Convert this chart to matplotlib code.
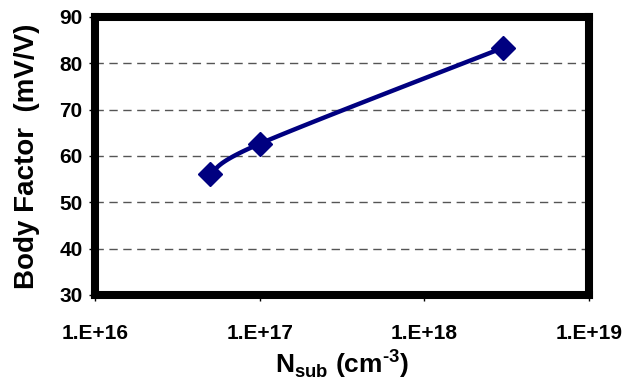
import numpy as np
import matplotlib
matplotlib.use("Agg")
import matplotlib.pyplot as plt

n_sub = [5e16, 1e17, 3e18]
body_factor = [56.0, 62.6, 83.3]
y_ticks = [30, 40, 50, 60, 70, 80, 90]
x_ticks = [1e16, 1e17, 1e18, 1e19]
x_labels = ["1.E+16", "1.E+17", "1.E+18", "1.E+19"]

plt.rcParams['font.family'] = ['Liberation Sans', 'DejaVu Sans']
plt.rcParams['font.weight'] = 'bold'
plt.rcParams['mathtext.fontset'] = 'custom'
plt.rcParams['mathtext.bf'] = 'Liberation Sans:bold'
plt.rcParams['mathtext.rm'] = 'Liberation Sans:bold'

fig = plt.figure(figsize=(6.29, 3.83), dpi=100)
ax = fig.add_axes([0.151, 0.230, 0.785, 0.726])
ax.set_xscale('log')
ax.set_xlim(1e16, 1e19)
ax.set_ylim(30, 90)

# excel-like smoothed line (bezier through points, done in axis-fraction space)
aspect = (0.726 * 3.83) / (0.785 * 6.29)
u = (np.log10(n_sub) - 16) / 3.0
v = (np.array(body_factor) - 30) / 60.0 * aspect
pts = np.column_stack([u, v])
curve = []
for i in range(len(pts) - 1):
    p0 = pts[i - 1] if i > 0 else pts[i]
    p1 = pts[i]
    p2 = pts[i + 1]
    p3 = pts[i + 2] if i + 2 < len(pts) else pts[i + 1]
    c1 = p1 + (p2 - p0) / 6.0
    c2 = p2 - (p3 - p1) / 6.0
    t = np.linspace(0, 1, 40)[:, None]
    seg = (1 - t) ** 3 * p1 + 3 * (1 - t) ** 2 * t * c1 + 3 * (1 - t) * t ** 2 * c2 + t ** 3 * p2
    curve.append(seg)
curve = np.vstack(curve)
cx = 10 ** (curve[:, 0] * 3 + 16)
cy = curve[:, 1] / aspect * 60 + 30

ax.plot(cx, cy, color='#000080', lw=3.2, zorder=3)
ax.plot(n_sub, body_factor, linestyle='none', marker='D', markersize=12,
        color='#000080', zorder=4)

for g in [40, 50, 60, 70, 80]:
    ax.axhline(g, color='#555555', lw=1, dashes=(6, 4), zorder=1)

for s in ax.spines.values():
    s.set_linewidth(5.8)
    s.set_color('black')

ax.set_yticks(y_ticks)
ax.set_xticks(x_ticks)
ax.set_xticklabels(x_labels)
ax.minorticks_off()
ax.tick_params(axis='both', labelsize=15, length=4, width=1, direction='out')
ax.tick_params(axis='x', pad=17)
ax.tick_params(axis='y', pad=5)

ax.set_ylabel('Body Factor  (mV/V)', fontsize=20, fontweight='bold', labelpad=14)
ax.set_xlabel('N$_{\\mathbf{sub}}$ (cm$^{\\mathbf{\u20103}}$)', fontsize=19, fontweight='bold', labelpad=3)

fig.savefig('out.png', dpi=100)
